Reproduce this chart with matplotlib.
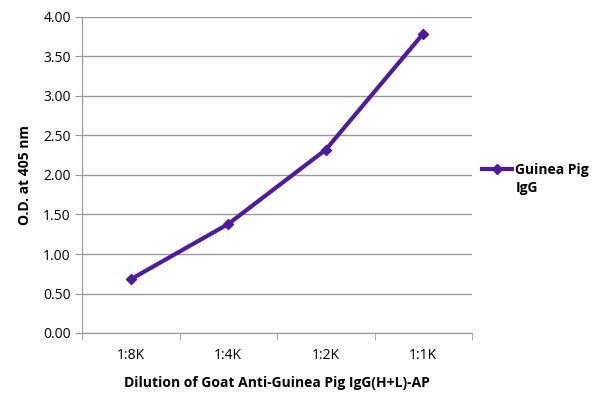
import numpy as np
import matplotlib
matplotlib.use('Agg')
from matplotlib import pyplot as plt

dilutions = ['1:8K', '1:4K', '1:2K', '1:1K']
od_values = [0.68, 1.38, 2.32, 3.79]
series_name = 'Guinea Pig'
series_name2 = 'IgG'

plt.rcParams['font.family'] = ['Open Sans', 'DejaVu Sans']
purple = '#4E1A9E'
fs = 10

fig = plt.figure(figsize=(6.0, 4.04), dpi=100)
ax = fig.add_axes([82 / 600, 1 - 333 / 404, 390 / 600, 316 / 404])

x = np.arange(len(dilutions))
ax.plot(x, od_values, color=purple, lw=3, marker='D', ms=5, label=series_name)

ax.set_xlim(-0.5, len(dilutions) - 0.5)
ax.set_ylim(0, 4)
ax.set_yticks(np.arange(0, 4.01, 0.5))
ax.set_yticklabels(['%.2f' % v for v in np.arange(0, 4.01, 0.5)], fontsize=fs)
ax.yaxis.grid(True, color='#999999', lw=1)
ax.set_axisbelow(True)

ax.set_xticks(x)
ax.set_xticklabels(dilutions, fontsize=fs)
ax.tick_params(axis='x', length=0, pad=11)
ax.set_xticks(np.arange(-0.5, len(dilutions)), minor=True)
ax.tick_params(axis='x', which='minor', length=5, color='#999999', direction='out')
ax.tick_params(axis='y', length=5, color='#999999', direction='out', pad=3)

for s in ['top', 'right']:
    ax.spines[s].set_visible(False)
for s in ['left', 'bottom']:
    ax.spines[s].set_color('#999999')

ax.set_ylabel('O.D. at 405 nm', fontsize=fs, fontweight='bold', labelpad=8)
ax.set_xlabel('Dilution of Goat Anti-Guinea Pig IgG(H+L)-AP', fontsize=fs,
              fontweight='bold', labelpad=9)

leg = ax.legend(loc='center left', bbox_to_anchor=(1.0, 1 - (170 - 16.7) / 316),
                frameon=False, fontsize=fs, handlelength=2.2, handletextpad=0.2,
                borderaxespad=0.3)
for t in leg.get_texts():
    t.set_fontweight('bold')
fig.text(516 / 600, 1 - 188 / 404, series_name2, fontsize=fs, fontweight='bold',
         va='center', ha='left')

fig.savefig('out.png', dpi=100)
